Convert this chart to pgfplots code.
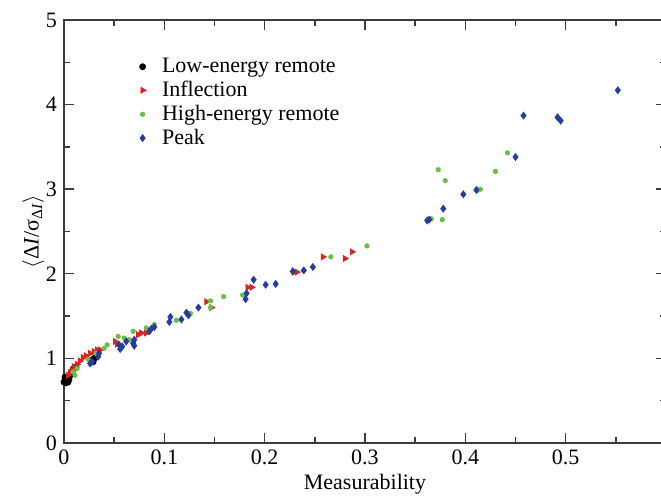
\documentclass[border=0pt]{standalone}
\usepackage{pgfplots}
\pgfplotsset{compat=1.18}
\usepackage[no-math]{fontspec}
\setmainfont{Liberation Serif}
\definecolor{cred}{RGB}{220,35,35}
\definecolor{cgreen}{RGB}{110,190,70}
\definecolor{cblue}{RGB}{40,60,160}
\definecolor{axc}{RGB}{60,60,60}
\begin{document}
\begin{tikzpicture}
\begin{axis}[
  scale only axis,
  width=301pt, height=211.5pt,
  at={(0,0)}, anchor=south west,
  xmin=0, xmax=0.6, ymin=0, ymax=5,
  xtick={0,0.1,0.2,0.3,0.4,0.5,0.6},
  xticklabels={0,0.1,0.2,0.3,0.4,0.5,},
  ytick={0,1,2,3,4,5},
  yticklabels={0,1,2,3,4,5},
  minor x tick num=1, minor y tick num=1,
  tick align=inside,
  major tick length=5pt, minor tick length=3pt,
  tick style={axc, line width=0.7pt},
  axis line style={axc, line width=0.9pt},
  ticklabel style={font=\rmfamily\fontsize{11}{13}\selectfont},
  xlabel={Measurability},
  ylabel={$\langle$Δ\textit{I}/σ\textsubscript{Δ\textit{I}}$\rangle$},
  label style={font=\rmfamily\fontsize{11}{13}\selectfont},
  xlabel style={yshift=2pt},
  ylabel style={yshift=-6pt},
  legend style={draw=none, fill=none, at={(0.115,0.93)}, anchor=north west,
    font=\rmfamily\fontsize{11}{13}\selectfont, row sep=-1.2pt, cells={anchor=west},
    /tikz/every odd column/.append style={column sep=6pt}},
  legend cell align=left,
]
\addplot[only marks, mark=*, mark size=1.5pt, black] coordinates {
(0.000,0.72)(0.001,0.74)(0.002,0.76)(0.003,0.73)(0.004,0.78)(0.005,0.75)
(0.006,0.80)(0.008,0.84)(0.009,0.87)(0.010,0.88)(0.012,0.90)(0.007,0.82)
(0.028,0.98)(0.030,1.00)(0.029,0.96)(0.002,0.71)(0.001,0.78)(0.004,0.72)
};
\addlegendentry{Low-energy remote}
\addplot[only marks, mark=triangle*, mark options={rotate=-90}, mark size=1.7pt, cred] coordinates {
(0.287,2.26)(0.280,2.18)(0.258,2.20)(0.229,2.02)(0.232,2.02)(0.183,1.84)
(0.187,1.84)(0.142,1.67)(0.147,1.60)(0.077,1.30)(0.082,1.30)(0.074,1.28)
(0.051,1.20)(0.053,1.17)(0.033,1.10)(0.036,1.10)(0.030,1.08)(0.026,1.06)
(0.022,1.03)(0.019,1.01)(0.016,0.97)(0.013,0.93)(0.010,0.90)(0.008,0.86)
(0.006,0.83)(0.004,0.80)
};
\addlegendentry{Inflection}
\addplot[only marks, mark=*, mark size=1.1pt, cgreen] coordinates {
(0.380,3.10)(0.373,3.23)(0.442,3.43)(0.430,3.21)(0.415,3.00)(0.413,2.99)
(0.366,2.65)(0.377,2.64)(0.302,2.33)(0.266,2.20)(0.178,1.75)(0.159,1.73)
(0.146,1.68)(0.146,1.60)(0.126,1.53)(0.112,1.45)(0.090,1.40)(0.082,1.36)
(0.069,1.32)(0.054,1.26)(0.060,1.24)(0.065,1.22)(0.043,1.16)(0.040,1.12)
(0.032,1.06)(0.024,0.99)(0.013,0.88)(0.009,0.84)(0.011,0.80)
};
\addlegendentry{High-energy remote}
\addplot[only marks, mark=diamond*, mark size=1.7pt, cblue] coordinates {
(0.552,4.17)(0.458,3.87)(0.492,3.85)(0.495,3.81)(0.450,3.38)(0.411,2.99)
(0.398,2.94)(0.378,2.77)(0.362,2.63)(0.364,2.64)(0.228,2.03)(0.239,2.04)
(0.248,2.08)(0.189,1.93)(0.201,1.87)(0.211,1.88)(0.182,1.77)(0.181,1.70)
(0.134,1.60)(0.122,1.54)(0.124,1.51)(0.117,1.46)(0.106,1.49)(0.105,1.43)
(0.090,1.37)(0.087,1.35)(0.085,1.32)(0.070,1.22)(0.069,1.18)(0.070,1.15)
(0.062,1.20)(0.055,1.16)(0.056,1.11)(0.058,1.14)(0.035,1.06)(0.034,1.02)
(0.028,0.96)(0.026,0.94)
};
\addlegendentry{Peak}
\end{axis}
\pgfresetboundingbox
\useasboundingbox (-32pt,-27pt) rectangle (298.5pt,221.5pt);
\end{tikzpicture}
\end{document}
